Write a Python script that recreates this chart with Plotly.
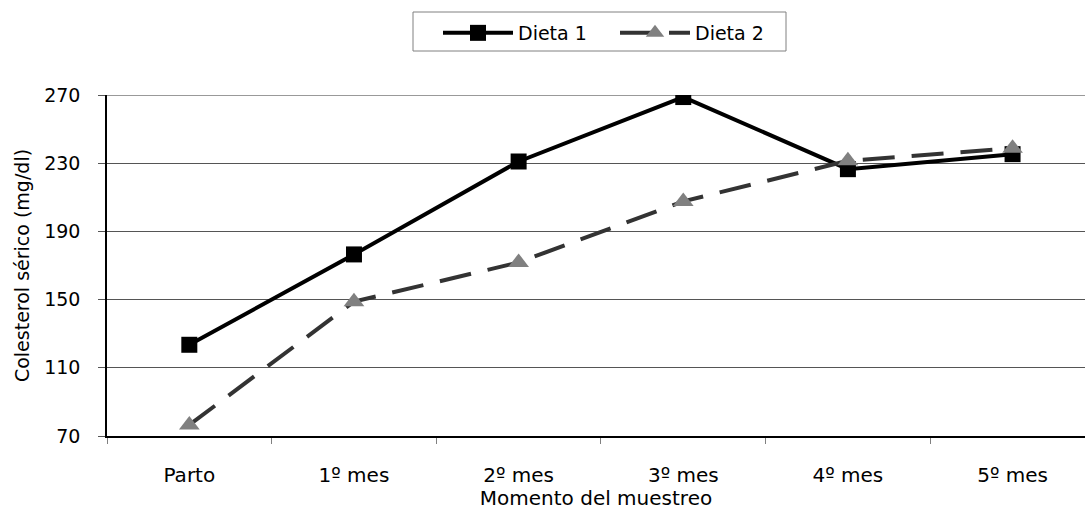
import plotly.graph_objects as go

categorias = ["Parto", "1º mes", "2º mes", "3º mes", "4º mes", "5º mes"]
dieta1 = [123.5, 176.5, 231, 268.8, 226.5, 235.3]
dieta2 = [76.5, 148.8, 171.8, 207.6, 231.4, 238.8]
y_ticks = [70, 110, 150, 190, 230, 270]

fuente = "Verdana, DejaVu Sans, sans-serif"

# plot area in pixels (used to place the legend frame)
W, H = 1085, 510
L, R, T, B = 107, 0, 95, 74
pw, ph = W - L - R, H - T - B


def px_x(px):
    return (px - L) / pw


def px_y(py):
    return (H - B - py) / ph


fig = go.Figure()
fig.add_trace(go.Scatter(
    x=categorias, y=dieta1, name="Dieta 1", mode="lines+markers",
    line=dict(color="#000000", width=4),
    marker=dict(symbol="square", size=16, color="#000000"),
))
fig.add_trace(go.Scatter(
    x=categorias, y=dieta2, name="Dieta 2", mode="lines+markers",
    line=dict(color="#333333", width=4, dash="32px,17px"),
    marker=dict(symbol="triangle-up", size=18, color="#808080"),
))

# top gridline at 270 is lighter and a bit thicker
fig.add_shape(type="line", xref="paper", yref="y", x0=0, x1=1, y0=270, y1=270,
              line=dict(color="#999999", width=2), layer="below")

# legend frame
fig.add_shape(type="rect", xref="paper", yref="paper",
              x0=px_x(413), x1=px_x(786), y0=px_y(51), y1=px_y(12),
              line=dict(color="#808080", width=1), fillcolor="rgba(0,0,0,0)")

fig.update_layout(
    width=W, height=H,
    margin=dict(l=L, r=R, t=T, b=B),
    paper_bgcolor="white", plot_bgcolor="white",
    font=dict(family=fuente, size=19, color="#000000"),
    showlegend=True,
    legend=dict(
        orientation="h", x=438 / W, y=1 - 14 / H, xref="container", yref="container",
        xanchor="left", yanchor="top",
        borderwidth=0, bgcolor="rgba(0,0,0,0)",
        font=dict(family=fuente, size=19),
        itemwidth=70, entrywidth=92, entrywidthmode="pixels",
    ),
    xaxis=dict(
        type="category", range=[-0.5, 5.44],
        showline=True, linecolor="#000000", linewidth=2,
        ticks="outside", tickson="boundaries", ticklen=6, tickcolor="#808080",
        ticklabelstandoff=20,
        showgrid=False,
        title=dict(text="Momento del muestreo", font=dict(family=fuente, size=20), standoff=9),
        tickfont=dict(family=fuente, size=20),
    ),
    yaxis=dict(
        range=[70, 270], tickvals=y_ticks,
        showline=True, linecolor="#000000", linewidth=1.5,
        ticks="outside", ticklen=7, tickcolor="#555555",
        ticklabelstandoff=14,
        showgrid=True, gridcolor="#555555", gridwidth=1,
        zeroline=False,
        title=dict(text="Colesterol sérico (mg/dl)", font=dict(family=fuente, size=19), standoff=10),
        tickfont=dict(family=fuente, size=19),
    ),
)

fig.write_html("out.html")
